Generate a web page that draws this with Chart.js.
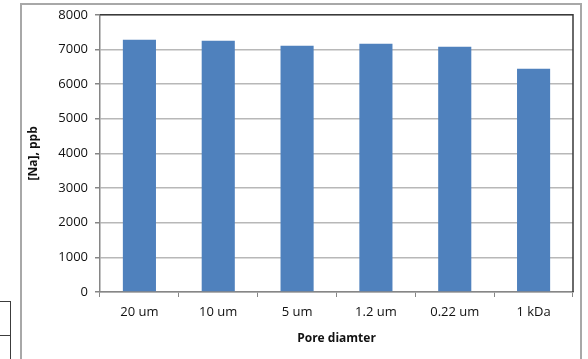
<!DOCTYPE html>
<html>
<head>
<meta charset="utf-8">
<script src="https://cdn.jsdelivr.net/npm/chart.js@4.4.0/dist/chart.umd.min.js"></script>
<style>
  html, body { margin: 0; padding: 0; background: #fff; }
  #wrap { position: relative; width: 588px; height: 359px; overflow: hidden; background: #fff; }
  #frame { position: absolute; left: 20px; top: 3px; width: 562px; height: 380px; border: 2px solid #a8a8a8; box-sizing: border-box; }
  #cellA { position: absolute; left: -2px; top: 301px; width: 13px; height: 35px; border: 1px solid #3c3c3c; border-left: none; box-sizing: border-box; }
  #cellB { position: absolute; left: -2px; top: 335px; width: 13px; height: 40px; border: 1px solid #3c3c3c; border-left: none; box-sizing: border-box; }
  canvas { position: absolute; left: 0; top: 0; }
</style>
</head>
<body>
<div id="wrap">
  <div id="cellA"></div>
  <div id="cellB"></div>
  <div id="frame"></div>
  <canvas id="c" width="588" height="359"></canvas>
</div>
<script>
// Sodium concentration after filtration through each pore size
const poreSizes = ['20 um', '10 um', '5 um', '1.2 um', '0.22 um', '1 kDa'];
const sodiumPpb = [7280, 7250, 7105, 7165, 7080, 6445];
const yTicks = [0, 1000, 2000, 3000, 4000, 5000, 6000, 7000, 8000];

const FONT = '"Open Sans", "DejaVu Sans", sans-serif';

// dark frame on the top and right sides of the plot area
const plotFrame = {
  id: 'plotFrame',
  afterDatasetsDraw(chart) {
    const { ctx, chartArea: a } = chart;
    ctx.save();
    ctx.strokeStyle = '#3a3a3a';
    ctx.lineWidth = 1.5;
    ctx.beginPath();
    ctx.moveTo(a.left, a.top);
    ctx.lineTo(a.right, a.top);
    ctx.lineTo(a.right, a.bottom);
    ctx.stroke();
    ctx.restore();
  }
};

new Chart(document.getElementById('c'), {
  type: 'bar',
  data: {
    labels: poreSizes,
    datasets: [{
      data: sodiumPpb,
      backgroundColor: '#4f81bd',
      borderWidth: 0,
      categoryPercentage: 1,
      barPercentage: 0.42
    }]
  },
  options: {
    responsive: false,
    animation: false,
    devicePixelRatio: 1,
    layout: { padding: { left: 26, top: 14, right: 15, bottom: 13 } },
    plugins: { legend: { display: false }, tooltip: { enabled: false } },
    scales: {
      x: {
        grid: { offset: true, drawOnChartArea: false, drawTicks: true, tickLength: 5, tickColor: '#868686' },
        border: { color: '#868686', width: 1.5 },
        ticks: { color: '#111', font: { family: FONT, size: 13 }, padding: 7, maxRotation: 0 },
        title: { display: true, text: 'Pore diamter', color: '#111', font: { family: FONT, size: 12, weight: 'bold' }, padding: 0 },
        afterFit(s) { s.height = 54; }
      },
      y: {
        min: 0, max: 8000,
        afterBuildTicks(s) { s.ticks = yTicks.map(v => ({ value: v })); },
        grid: { color: '#b8b8b8', lineWidth: 1.5, tickLength: 5, tickColor: '#868686' },
        border: { color: '#868686', width: 1.5 },
        ticks: { color: '#111', font: { family: FONT, size: 13 }, padding: 7, callback: v => String(v) },
        title: { display: true, text: '[Na], ppb', color: '#111', font: { family: FONT, size: 12, weight: 'bold' }, padding: 0 },
        afterFit(s) { s.width = 74; }
      }
    }
  },
  plugins: [plotFrame]
});
</script>
</body>
</html>
